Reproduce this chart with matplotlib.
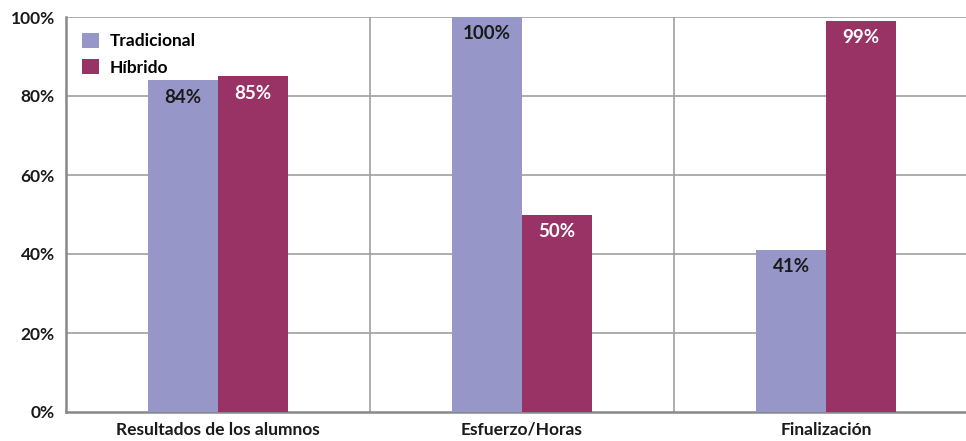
import matplotlib
matplotlib.use("Agg")
from matplotlib import pyplot as plt
import numpy as np

categories = ["Resultados de los alumnos", "Esfuerzo/Horas", "Finalización"]
tradicional = [84, 100, 41]
hibrido = [85, 50, 99]
yticks = [0, 20, 40, 60, 80, 100]

plt.rcParams['font.family'] = ['Lato', 'DejaVu Sans']
plt.rcParams['font.weight'] = 'bold'

fig = plt.figure(figsize=(9.66, 4.41), dpi=100)
ax = fig.add_axes([66/966, 29/441, 1 - 66/966, 395/441])

x = np.arange(len(categories))
w = 0.23
b1 = ax.bar(x - w/2, tradicional, w, color='#9696c8', label='Tradicional', zorder=3)
b2 = ax.bar(x + w/2, hibrido, w, color='#993366', label='Híbrido', zorder=3)

for rect, v in zip(b1, tradicional):
    ax.annotate(f"{v}%", (rect.get_x() + rect.get_width()/2, v), xytext=(0, -6),
                textcoords='offset points', ha='center', va='top',
                fontsize=13.5, fontweight='bold', color='#1a1a1a', zorder=4)
for rect, v in zip(b2, hibrido):
    ax.annotate(f"{v}%", (rect.get_x() + rect.get_width()/2, v), xytext=(0, -6),
                textcoords='offset points', ha='center', va='top',
                fontsize=13.5, fontweight='bold', color='white', zorder=4)

ax.set_xlim(-0.5, (966 - 66) / 304 - 0.5)
ax.set_ylim(0, 100)
ax.set_yticks(yticks)
ax.set_yticklabels([f"{t}%" for t in yticks])
ax.set_xticks(x)
ax.set_xticklabels(categories)
ax.tick_params(length=0, labelsize=12.5, colors='#1a1a1a')
ax.tick_params(axis='y', pad=8)
ax.tick_params(axis='x', pad=7)

for y in yticks[1:]:
    ax.axhline(y, color='#a0a0a0', lw=1.2, zorder=1)
for xv in [0.5, 1.5]:
    ax.axvline(xv, color='#a0a0a0', lw=1.2, zorder=1)

for s in ['top', 'right']:
    ax.spines[s].set_visible(False)
for s in ['left', 'bottom']:
    ax.spines[s].set_color('#888888')
    ax.spines[s].set_linewidth(1.8)

ax.legend(loc='upper left', frameon=False, fontsize=12.5, handlelength=1.0,
          handleheight=1.0, borderaxespad=0.5, labelspacing=0.55, handletextpad=0.6)

fig.savefig("out.png", dpi=100)
